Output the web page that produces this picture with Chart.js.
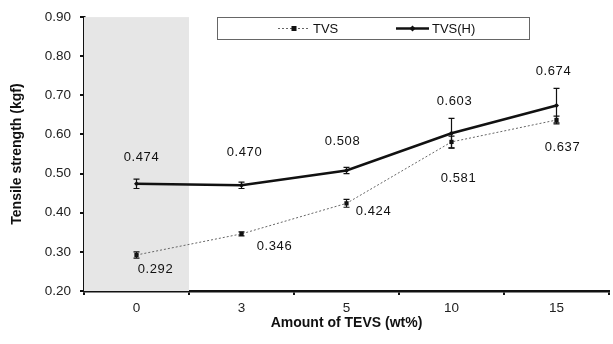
<!DOCTYPE html>
<html><head><meta charset="utf-8">
<script src="https://cdn.jsdelivr.net/npm/chart.js@4"></script>
<style>html,body{margin:0;padding:0;background:#fff}#wrap{width:613px;height:344px;position:relative}</style>
</head><body><div id="wrap"><canvas id="c" width="613" height="344"></canvas></div>
<script>
const categories = ['0','3','5','10','15'];
const tvs = [0.292, 0.346, 0.424, 0.581, 0.637];
const tvsErr = [0.008, 0.005, 0.010, 0.015, 0.010];
const tvsH = [0.474, 0.470, 0.508, 0.603, 0.674];
const tvsHErr = [0.012, 0.008, 0.008, 0.038, 0.044];
const yTicks = [0.2,0.3,0.4,0.5,0.6,0.7,0.8,0.9];

const FONT = "'Liberation Sans', Arial, sans-serif";

const labelOffsets = {
  0: [[19,14],[33,13],[27,8],[7,37],[6,27]],
  1: [[5,-26],[3,-33],[-4,-29],[3,-32],[-3,-34]]
};

const plugin = {
  id: 'custom',
  beforeDatasetsDraw(chart) {
    const {ctx, chartArea: a, scales: {x}} = chart;
    const x0 = x.getPixelForValue(0), x1 = x.getPixelForValue(1);
    ctx.save();
    ctx.fillStyle = '#e6e6e6';
    ctx.fillRect(a.left, a.top, (x0 + x1) / 2 - a.left, a.bottom - a.top);
    ctx.restore();
  },
  afterDatasetsDraw(chart) {
    const {ctx, scales: {x, y}} = chart;
    ctx.save();
    chart.data.datasets.forEach((ds, di) => {
      const meta = chart.getDatasetMeta(di);
      ds.data.forEach((v, i) => {
        const px = meta.data[i].x;
        const e = ds.errors[i];
        const yt = y.getPixelForValue(v + e), yb = y.getPixelForValue(v - e);
        ctx.strokeStyle = '#111'; ctx.lineWidth = 1.2;
        ctx.beginPath();
        ctx.moveTo(px, yt); ctx.lineTo(px, yb);
        ctx.moveTo(px - 3, yt); ctx.lineTo(px + 3, yt);
        ctx.moveTo(px - 3, yb); ctx.lineTo(px + 3, yb);
        ctx.stroke();
        const off = labelOffsets[di][i];
        ctx.fillStyle = '#111';
        ctx.font = '13px ' + FONT;
        ctx.letterSpacing = '0.6px';
        ctx.textAlign = 'center'; ctx.textBaseline = 'middle';
        ctx.fillText(v.toFixed(3), px + off[0], meta.data[i].y + off[1]);
      });
    });
    ctx.restore();
  },
  afterDraw(chart) {
    const {ctx} = chart;
    ctx.save();
    ctx.strokeStyle = '#666'; ctx.lineWidth = 1;
    ctx.fillStyle = '#fff';
    ctx.fillRect(217.5, 17.5, 312, 22);
    ctx.strokeRect(217.5, 17.5, 312, 22);
    const items = [
      {x1: 278, x2: 310, tx: 313, ds: 0},
      {x1: 396, x2: 429, tx: 432, ds: 1}
    ];
    items.forEach(it => {
      const ds = chart.data.datasets[it.ds];
      const yy = 28.5;
      ctx.strokeStyle = ds.borderColor; ctx.lineWidth = ds.borderWidth;
      ctx.setLineDash(ds.borderDash || []);
      ctx.beginPath(); ctx.moveTo(it.x1, yy); ctx.lineTo(it.x2, yy); ctx.stroke();
      ctx.setLineDash([]);
      ctx.fillStyle = '#111';
      const m = (it.x1 + it.x2) / 2;
      if (it.ds === 0) ctx.fillRect(m - 2.5, yy - 2.5, 5, 5);
      else { ctx.beginPath(); ctx.moveTo(m, yy - 3); ctx.lineTo(m + 3, yy); ctx.lineTo(m, yy + 3); ctx.lineTo(m - 3, yy); ctx.closePath(); ctx.fill(); }
      ctx.font = '13px ' + FONT;
      ctx.textAlign = 'left'; ctx.textBaseline = 'middle';
      ctx.fillText(ds.label, it.tx, yy + 0.5);
    });
    ctx.restore();
  }
};

new Chart(document.getElementById('c'), {
  type: 'line',
  data: {
    labels: categories,
    datasets: [
      { label: 'TVS', data: tvs, errors: tvsErr, borderColor: '#666', borderWidth: 1, borderDash: [2, 2],
        pointStyle: 'rect', pointRadius: 3, pointBackgroundColor: '#111', pointBorderColor: '#111', pointBorderWidth: 0 },
      { label: 'TVS(H)', data: tvsH, errors: tvsHErr, borderColor: '#111', borderWidth: 2.5,
        pointStyle: 'rectRot', pointRadius: 2.5, pointBackgroundColor: '#111', pointBorderColor: '#111', pointBorderWidth: 0 }
    ]
  },
  options: {
    responsive: false, animation: false,
    layout: { padding: { left: 0, right: 0, top: 13, bottom: 0 } },
    plugins: { legend: { display: false }, tooltip: { enabled: false } },
    scales: {
      x: {
        type: 'category', offset: true,
        grid: { display: true, offset: true, drawOnChartArea: false, drawTicks: true, tickLength: 4, color: '#111', lineWidth: 2 },
        border: { display: true, color: '#111', width: 2.5 },
        ticks: { color: '#222', font: { family: FONT, size: 13.5 }, padding: 5 },
        title: { display: true, text: 'Amount of TEVS (wt%)', color: '#111', font: { family: FONT, size: 14, weight: 'bold' }, padding: { top: 0, bottom: 12.6 } },
        afterFit(s) { s.height = 53; }
      },
      y: {
        min: 0.2, max: 0.9,
        afterBuildTicks(s) { s.ticks = yTicks.map(v => ({ value: v })); },
        grid: { display: true, drawOnChartArea: false, drawTicks: true, tickLength: 4, color: '#111', lineWidth: 2 },
        border: { display: true, color: '#111', width: 2.5 },
        ticks: { color: '#222', font: { family: FONT, size: 13.5 }, padding: 9, callback: v => Number(v).toFixed(2) },
        title: { display: true, text: 'Tensile strength (kgf)', color: '#111', font: { family: FONT, size: 14, weight: 'bold' }, padding: { top: 9, bottom: 0 } },
        afterFit(s) { s.width = 84; }
      }
    }
  },
  plugins: [plugin]
});
</script></body></html>
